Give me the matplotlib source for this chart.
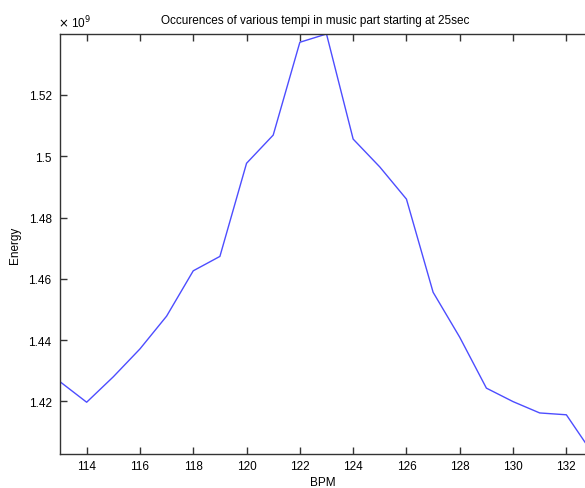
import matplotlib
matplotlib.use("Agg")
from matplotlib import pyplot as plt

# energy per tempo, in units of 1e9
bpm = list(range(113, 134))
energy = [1.4264, 1.4197, 1.4280, 1.4371, 1.4478, 1.4626, 1.4673, 1.4977,
          1.5069, 1.5372, 1.5399, 1.5056, 1.4965, 1.4860, 1.4556, 1.4409,
          1.4243, 1.4199, 1.4162, 1.4156, 1.4028]
xticks = list(range(114, 134, 2))
yticks = [1.42, 1.44, 1.46, 1.48, 1.50, 1.52]
yticklabels = ['1.42', '1.44', '1.46', '1.48', '1.5', '1.52']

plt.rcParams['font.family'] = ['Liberation Sans', 'DejaVu Sans']

fig = plt.figure(figsize=(5.85, 4.89), dpi=100)
# axes run past the right edge (the picture is cropped there)
ax = fig.add_axes([60 / 585, 34 / 489, 533 / 585, 420 / 489])
ax.plot(bpm, energy, color=(0.3, 0.3, 1.0), lw=1.0)
ax.set_xlim(min(bpm), max(bpm))
ax.set_ylim(min(energy), max(energy))
ax.set_xticks(xticks)
ax.set_yticks(yticks)
ax.set_yticklabels(yticklabels)
ax.tick_params(direction='in', length=5, width=1, labelsize=8.5, top=True, right=True,
               color='#333333')
ax.tick_params(axis='x', pad=4)
ax.tick_params(axis='y', pad=6)
for s in ax.spines.values():
    s.set_color('#333333')
    s.set_linewidth(1)

fig.text(323 / 585, 1 - 483 / 489, 'BPM', ha='center', va='center', fontsize=8.5)
fig.text(15 / 585, 1 - 245 / 489, 'Energy', ha='center', va='center', fontsize=8.5,
         rotation=90)
fig.text(315 / 585, 1 - 21 / 489, 'Occurences of various tempi in music part starting at 25sec',
         ha='center', va='center', fontsize=8.5)
fig.text(58 / 585, 1 - 23 / 489, r'$\times$ 10$^{9}$', ha='left', va='center', fontsize=8.5)

fig.savefig('out.png', dpi=100)
